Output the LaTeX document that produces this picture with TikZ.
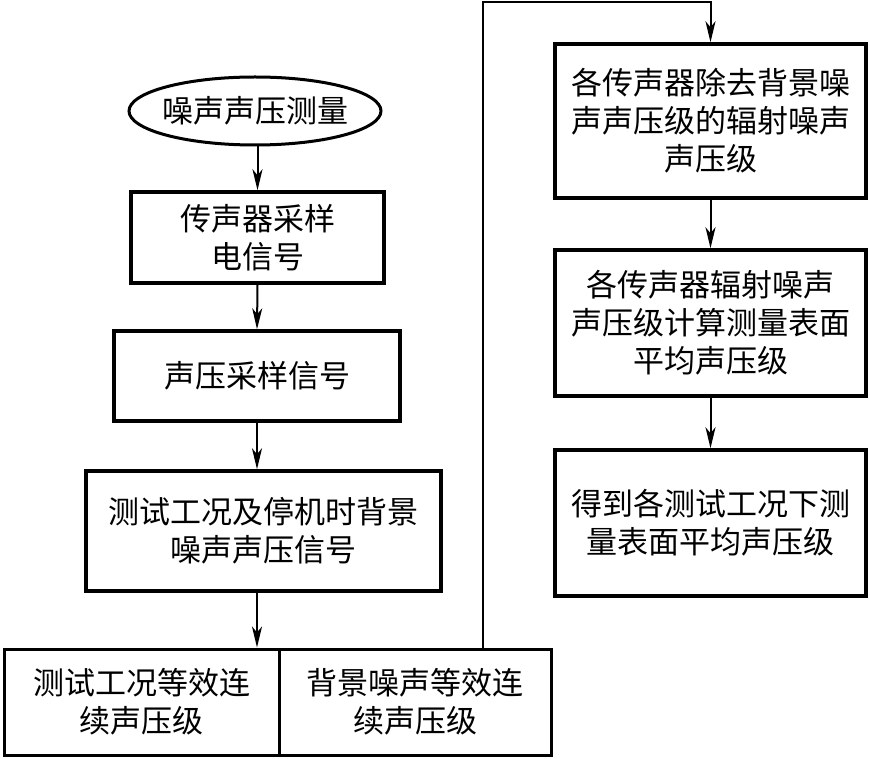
\documentclass[tikz,border=0pt]{standalone}
\usepackage{fontspec}
\newfontfamily\cjk{Noto Sans CJK SC}
\usetikzlibrary{shapes.geometric,arrows.meta}
\tikzset{
  box/.style={draw, line width=3.5pt, rectangle, inner sep=0pt, align=center,
    font=\cjk\fontsize{31}{38}\selectfont},
  oval/.style={draw, line width=3pt, ellipse, inner xsep=-5pt, inner ysep=0pt, align=center,
    font=\cjk\fontsize{31}{38}\selectfont},
  arr/.style={line width=2pt, -{Stealth[length=21pt,width=10pt,inset=6pt]}},
  ln/.style={line width=2pt}
}
\begin{document}
\begin{tikzpicture}[x=1pt,y=-1pt]
\useasboundingbox (0,0) rectangle (870,759);
\node[oval, minimum width=252pt, minimum height=68pt] (e) at (255,111) {噪声声压测量};
\node[box, minimum width=253pt, minimum height=91pt] (b1) at (257.5,237.5) {传声器采样\\电信号};
\node[box, minimum width=286pt, minimum height=90pt] (b2) at (257,376) {声压采样信号};
\node[box, minimum width=355pt, minimum height=120pt] (b3) at (263.5,531) {测试工况及停机时背景\\噪声声压信号};
\node[box, line width=3pt, minimum width=275pt, minimum height=106pt] (bl) at (141.5,702) {测试工况等效连\\续声压级};
\node[box, line width=3pt, minimum width=272pt, minimum height=106pt] (br) at (415,702) {背景噪声等效连\\续声压级};
\node[box, minimum width=311pt, minimum height=154pt] (b4) at (710.5,121) {各传声器除去背景噪\\声声压级的辐射噪声\\声压级};
\node[box, minimum width=311pt, minimum height=146pt] (b5) at (710.5,323) {各传声器辐射噪声\\声压级计算测量表面\\平均声压级};
\node[box, minimum width=311pt, minimum height=146pt] (b6) at (710.5,523) {得到各测试工况下测\\量表面平均声压级};
\coordinate (t0) at (483,2);
\draw[arr] (e.south -| b1.north) -- (b1.north);
\draw[arr] (b1.south) -- (b2.north);
\draw[arr] (b2.south) -- (b2.south |- b3.north);
\draw[arr] (b3.south -| b2.south) -- (b2.south |- bl.north);
\draw[arr] (br.north -| t0) -- (t0) -| (b4.north);
\draw[arr] (b4.south) -- (b5.north);
\draw[arr] (b5.south) -- (b6.north);
\end{tikzpicture}
\end{document}
